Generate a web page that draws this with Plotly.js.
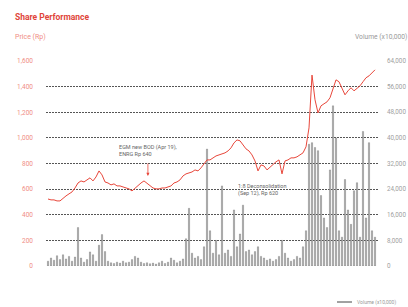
<!DOCTYPE html>
<html><head><meta charset="utf-8">
<script src="https://cdn.plot.ly/plotly-3.0.1.min.js"></script>
<style>html,body{margin:0;padding:0;background:#fff;}#c{width:408px;height:307px;}</style>
</head><body><div id="c"></div>
<script>
// Price (Rp), sequential trading observations
const price = [523,516,516,508,508,531,547,563,578,609,
  648,664,656,672,688,664,695,742,711,656,
  648,633,641,625,625,617,609,602,586,609,
  633,648,664,648,625,609,602,602,609,609,
  617,625,648,656,672,703,719,727,734,750,
  742,766,797,828,828,844,859,867,875,883,
  898,922,961,984,977,945,914,898,867,820,
  742,789,781,750,773,797,813,828,719,820,
  828,844,844,852,867,883,930,1078,1490,1297,
  1195,1250,1266,1281,1313,1391,1453,1438,1383,1336,
  1367,1391,1367,1383,1406,1438,1469,1484,1508,1531];
// Volume (x10,000)
const volume = [1500,2500,1800,3200,2000,3500,2200,3000,1500,2800,
  12000,2500,1200,2000,4400,3500,1500,6500,9800,4500,
  1500,1000,800,1200,900,1500,1000,1200,2000,3000,
  2500,1200,800,1000,700,900,600,1000,1500,800,
  1200,2500,1800,1000,1500,2200,8500,18000,4000,2500,
  3000,2000,6000,36500,11000,4000,8000,3500,25000,4000,
  5000,3000,17500,6000,10000,19000,4500,5000,3500,4500,
  6000,3000,2500,1800,2200,1500,2000,3000,8000,4000,
  2500,1500,2000,3000,2500,6000,11000,38000,38500,37000,
  36000,22000,15000,12000,30000,50000,40000,11000,9000,27000,
  17500,13000,23500,26000,9000,42000,15000,38500,11000,9000];
const idx = price.map((_, i) => i);
const priceTicks = [0,200,400,600,800,1000,1200,1400,1600];
const volTicks = [0,8000,16000,24000,32000,40000,48000,56000,64000];

const FONT = 'Roboto, "Open Sans", sans-serif';
const traces = [
  {type:'bar', x:idx, y:volume, yaxis:'y', marker:{color:'#a3a3a3', line:{width:0.4, color:'#777'}}, width:0.4, showlegend:false, hoverinfo:'skip'},
  {type:'scatter', mode:'lines', x:idx, y:price, yaxis:'y2', line:{color:'#e8473b', width:1}, showlegend:false, hoverinfo:'skip'}
];
const layout = {
  width:408, height:307,
  margin:{l:46, r:30, t:61, b:41},
  paper_bgcolor:'#fff', plot_bgcolor:'#fff',
  font:{family:FONT},
  showlegend:false,
  bargap:0,
  xaxis:{range:[-0.67,110], showgrid:false, showticklabels:false, zeroline:false, showline:false, ticks:''},
  yaxis:{side:'right', range:[0,64000], tickvals:volTicks, tickformat:',d',
    showgrid:true, gridcolor:'#555', gridwidth:1, griddash:'2px,1px',
    zeroline:false, showline:false, ticks:'', ticklabelstandoff:8,
    tickfont:{size:6.3, color:'#a0a0a0', family:FONT}},
  yaxis2:{overlaying:'y', side:'left', range:[0,1600], tickvals:priceTicks, tickformat:',d',
    showgrid:false, zeroline:false, showline:false, ticks:'', ticklabelstandoff:12,
    tickfont:{size:6.5, color:'#f08d85', family:FONT}},
  annotations:[
    {xref:'paper', yref:'paper', x:-0.1, y:(266-17)/205, xanchor:'left', yanchor:'middle', showarrow:false,
      text:'<b>Share Performance</b>', font:{size:8.5, color:'#e0453a', family:FONT}},
    {xref:'paper', yref:'paper', x:-0.1, y:(266-37)/205, xanchor:'left', yanchor:'middle', showarrow:false,
      text:'Price (Rp)', font:{size:7, color:'#f08d85', family:FONT}},
    {xref:'paper', yref:'paper', x:(353-46)/332, y:(266-37)/205, xanchor:'left', yanchor:'middle', showarrow:false,
      text:'Volume (x10,000)', font:{size:6.7, color:'#9a9a9a', family:FONT}},
    {xref:'x', yref:'y2', x:23, y:898, xanchor:'left', yanchor:'middle', align:'left', showarrow:false,
      text:'EGM new BOD (Apr 19),<br>ENRG Rp 640', font:{size:5.5, color:'#666', family:FONT}},
    {xref:'x', yref:'y2', x:33.3, y:703, ax:0, ay:-14, showarrow:true, arrowhead:2, arrowsize:0.8, arrowwidth:0.8, arrowcolor:'#e8473b', text:''},
    {xref:'x', yref:'y2', x:62.7, y:594, xanchor:'left', yanchor:'middle', align:'left', showarrow:false,
      text:'1:8 Deconsolidation<br>(Sep 12), Rp 620', font:{size:5.5, color:'#666', family:FONT}},
    {xref:'paper', yref:'paper', x:(355-46)/332, y:(266-302)/205, xanchor:'left', yanchor:'middle', showarrow:false,
      text:'Volume (x10,000)', font:{size:5, color:'#9a9a9a', family:FONT}}
  ],
  shapes:[
    {type:'line', xref:'paper', yref:'paper', x0:(337-46)/332, x1:(352-46)/332, y0:(266-302)/205, y1:(266-302)/205,
      line:{color:'#444', width:1}}
  ]
};
Plotly.newPlot('c', traces, layout, {displayModeBar:false, staticPlot:true});
</script></body></html>
